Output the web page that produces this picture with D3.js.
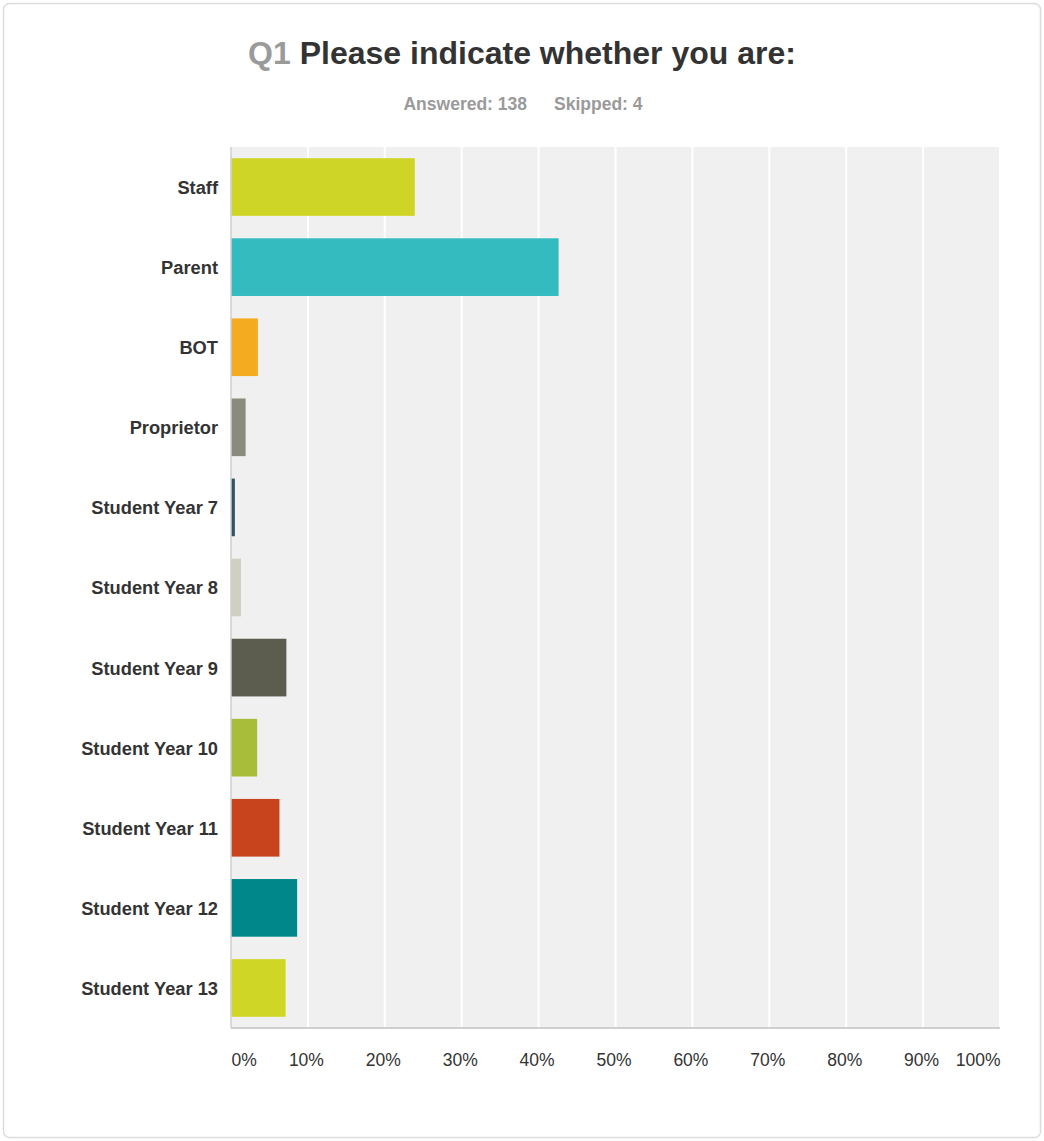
<!DOCTYPE html>
<html>
<head>
<meta charset="utf-8">
<script src="https://cdn.jsdelivr.net/npm/d3@7"></script>
<style>
  html, body { margin: 0; padding: 0; background: #fff; }
  svg { display: block; font-family: "Liberation Sans", Arial, sans-serif; }
</style>
</head>
<body>
<svg id="chart" width="1044" height="1141"></svg>
<script>
// Response categories and share of respondents (%)
const categories = ["Staff", "Parent", "BOT", "Proprietor", "Student Year 7", "Student Year 8",
  "Student Year 9", "Student Year 10", "Student Year 11", "Student Year 12", "Student Year 13"];
const percents = [23.9, 42.6, 3.5, 1.9, 0.5, 1.3, 7.2, 3.4, 6.3, 8.6, 7.1];
const barColors = ["#cfd526", "#33bbbf", "#f5ab1f", "#8a8b7d", "#2f5562", "#d0cfc4",
  "#5d5d4f", "#a8bd3a", "#c8441c", "#00878a", "#d0d626"];
const tickValues = [0, 10, 20, 30, 40, 50, 60, 70, 80, 90, 100];
const tickLabels = ["0%", "10%", "20%", "30%", "40%", "50%", "60%", "70%", "80%", "90%", "100%"];

const svg = d3.select("#chart");

// card frame
svg.append("rect")
  .attr("x", 3.5).attr("y", 3.5).attr("width", 1037).attr("height", 1134)
  .attr("rx", 6).attr("fill", "#fff").attr("stroke", "#dcdcdc").attr("stroke-width", 1.5);

// title
const title = svg.append("text")
  .attr("x", 522).attr("y", 64).attr("text-anchor", "middle")
  .attr("font-size", 32).attr("font-weight", "bold");
title.append("tspan").attr("fill", "#9a9a9a").text("Q1 ");
title.append("tspan").attr("fill", "#333").text("Please indicate whether you are:");

const sub = svg.append("text")
  .attr("x", 523).attr("y", 110).attr("text-anchor", "middle")
  .attr("font-size", 17.5).attr("font-weight", "bold").attr("fill", "#9a9a9a");
sub.append("tspan").text("Answered: 138");
sub.append("tspan").attr("dx", 27).text("Skipped: 4");

const plotLeft = 231, plotRight = 1000, plotTop = 147, plotBottom = 1028;

const x = d3.scaleLinear().domain([0, 100]).range([plotLeft, plotRight]);
const y = d3.scaleBand().domain(categories).range([plotTop, plotBottom])
  .paddingInner(0.28).paddingOuter(0.14);

// plot background
svg.append("rect")
  .attr("x", plotLeft).attr("y", plotTop)
  .attr("width", plotRight - plotLeft).attr("height", plotBottom - plotTop)
  .attr("fill", "#f0f0f0");

// vertical gridlines
svg.append("g").selectAll("line")
  .data(tickValues.slice(1))
  .join("line")
  .attr("x1", d => x(d)).attr("x2", d => x(d))
  .attr("y1", plotTop).attr("y2", plotBottom)
  .attr("stroke", "#fff").attr("stroke-width", 2);

// bars
svg.append("g").selectAll("rect")
  .data(categories)
  .join("rect")
  .attr("x", x(0))
  .attr("y", d => y(d))
  .attr("width", (d, i) => x(percents[i]) - x(0))
  .attr("height", y.bandwidth())
  .attr("fill", (d, i) => barColors[i]);

// axis lines
svg.append("line").attr("x1", plotLeft).attr("x2", plotLeft).attr("y1", plotTop).attr("y2", plotBottom)
  .attr("stroke", "#cfcfcf").attr("stroke-width", 1.5);
svg.append("line").attr("x1", plotLeft).attr("x2", plotRight).attr("y1", plotBottom).attr("y2", plotBottom)
  .attr("stroke", "#cfcfcf").attr("stroke-width", 2);

// x axis labels
const xAxis = d3.axisBottom(x).tickValues(tickValues)
  .tickFormat((d, i) => tickLabels[i]).tickSize(0).tickPadding(0);
const gx = svg.append("g").attr("transform", `translate(0,${plotBottom + 38})`).call(xAxis);
gx.select(".domain").remove();
gx.selectAll("text")
  .attr("font-size", 17.5).attr("fill", "#333").attr("font-family", "Liberation Sans, Arial, sans-serif")
  .attr("dy", 0)
  .attr("text-anchor", (d, i) => i === 0 ? "start" : (i === tickValues.length - 1 ? "end" : "middle"))
  .attr("dx", (d, i) => (i === 0 || i === tickValues.length - 1) ? 0 : -2);

// y axis labels
const yAxis = d3.axisLeft(y).tickSize(0).tickPadding(13);
const gy = svg.append("g").attr("transform", `translate(${plotLeft},0)`).call(yAxis);
gy.select(".domain").remove();
gy.selectAll("text")
  .attr("font-size", 18.3).attr("font-weight", "bold").attr("fill", "#333")
  .attr("dy", "0.38em")
  .attr("font-family", "Liberation Sans, Arial, sans-serif");
</script>
</body>
</html>
